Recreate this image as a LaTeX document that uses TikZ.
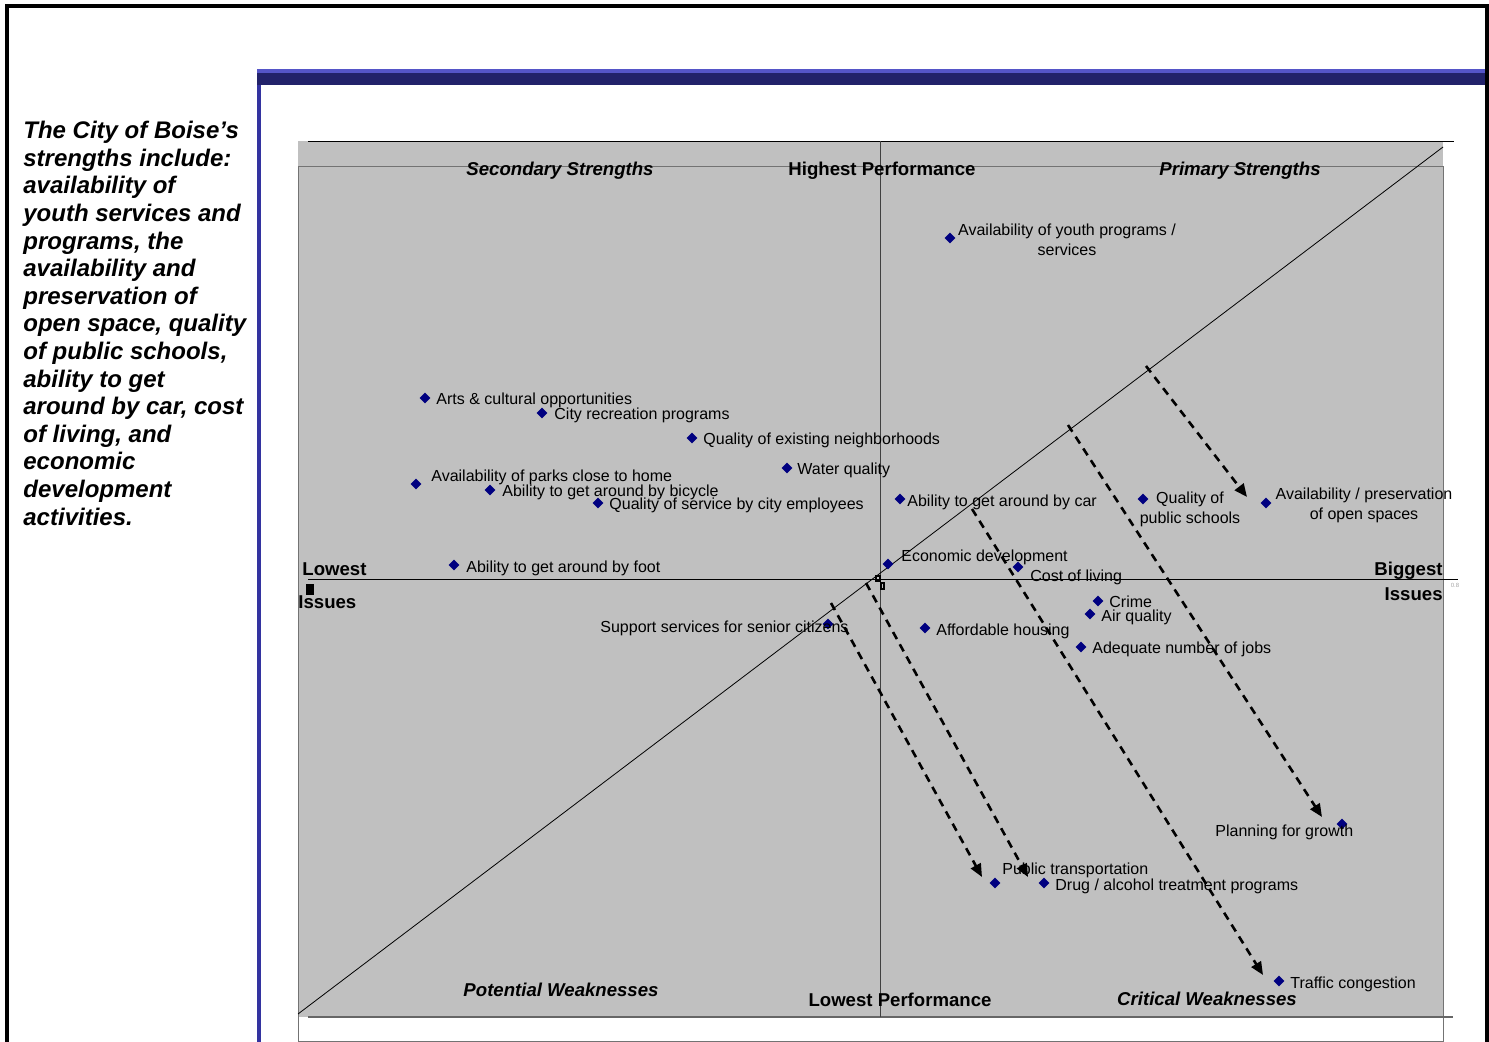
\documentclass[tikz,border=0pt]{standalone}
\usepackage{fontspec}
\setmainfont{Liberation Sans}
\usetikzlibrary{arrows.meta, positioning, shapes.geometric}

\definecolor{ptblue}{RGB}{0,0,128}
\definecolor{plotgrey}{RGB}{192,192,192}
\definecolor{framenavy}{RGB}{34,34,106}
\definecolor{framelight}{RGB}{85,85,200}
\definecolor{frameside}{RGB}{51,51,160}

\begin{document}
\begin{tikzpicture}[
        x=0.5pt, y=-0.5pt,
        pt/.style={diamond, fill=ptblue, inner sep=0pt, minimum size=5.6pt},
        lbl/.style={font=\fontsize{8}{10}\selectfont, inner sep=0pt, anchor=west, text height=6.4pt, text depth=0pt},
        mlbl/.style={font=\fontsize{8}{10}\selectfont, inner sep=0pt, align=center},
        head/.style={font=\fontsize{9.3}{11}\selectfont\bfseries, inner sep=0pt, text height=8pt, text depth=0pt},
        quad/.style={head, font=\fontsize{9.3}{11}\selectfont\bfseries\itshape},
        move/.style={-{Triangle[length=6.5pt, width=5.5pt]}, dash pattern=on 4pt off 3pt, line width=1.3pt}
    ]
        \useasboundingbox (0,0) rectangle (1489,1042);

        % page frame
        \draw[line width=2pt] (7,1042) -- (7,6) -- (1487,6) -- (1487,1042);
        \fill[framelight] (257,69) rectangle (1485,73);
        \fill[framenavy] (257,73) rectangle (1485,85);
        \fill[frameside] (257,85) rectangle (261,1042);

        % side text
        \node[anchor=north west, inner sep=0pt, align=left,
              font=\fontsize{12}{13.8}\selectfont\bfseries\itshape] (summary) at (23,121)
            {The City of Boise’s\\strengths include:\\availability of\\youth services and\\programs, the\\availability and\\preservation of\\open space, quality\\of public schools,\\ability to get\\around by car, cost\\of living, and\\economic\\development\\activities.};

        % plot area
        \fill[plotgrey] (298,141) rectangle (1443,1017);
        \draw[black!55] (298,1041) -- (298,166) -- (1443,166) -- (1443,1041) -- cycle;
        \draw[black!60, line width=0.8pt] (308,1017) -- (1453,1017);
        \draw (308,141) -- (1454,141);
        \draw (308,579) -- (1458,579);
        \draw[black!75] (880,141) -- (880,1017);
        \draw (298,1014) -- (1443,147);
        \fill (306,584) rectangle (314,595);
        \draw[line width=0.6pt] (876,576) rectangle (880,581);
        \draw[line width=0.6pt] (881,583) rectangle (884,589);
        \node[font=\fontsize{3}{3}\selectfont, text=black!35, inner sep=0pt] (maxtick) at (1455,585) {0.8};

        % quadrant and axis titles
        \node[quad] (secstr) at (560,168) {Secondary Strengths};
        \node[head] (highperf) at (882,168) {Highest Performance};
        \node[quad] (primstr) at (1240,168) {Primary Strengths};
        \node[quad] (potweak) at (561,988) {Potential Weaknesses};
        \node[head] (lowperf) at (900,998) {Lowest Performance};
        \node[quad] (critweak) at (1207,997) {Critical Weaknesses};
        \node[head, anchor=west] (lowest) at (302,568) {Lowest};
        \node[head, anchor=west] (lowiss) at (298,601) {Issues};
        \node[head, anchor=east] (biggest) at (1443,568) {Biggest};
        \node[head, anchor=east] (bigiss) at (1443,593) {Issues};

        % data points
        \node[pt] (youth) at (950,238) {};
        \node[mlbl] (youthT) at (1067,240) {Availability of youth programs /\\services};
        \node[pt] (arts) at (425,398) {};
        \node[lbl] (artsT) at (436,398) {Arts \& cultural opportunities};
        \node[pt] (cityrec) at (542,413) {};
        \node[lbl] (cityrecT) at (554,413) {City recreation programs};
        \node[pt] (neigh) at (692,438) {};
        \node[lbl] (neighT) at (703,438) {Quality of existing neighborhoods};
        \node[pt] (water) at (787,468) {};
        \node[lbl] (waterT) at (797,468) {Water quality};
        \node[pt] (parks) at (416,484) {};
        \node[lbl] (parksT) at (431,475) {Availability of parks close to home};
        \node[pt] (bicycle) at (490,490) {};
        \node[lbl] (bicycleT) at (502,490) {Ability to get around by bicycle};
        \node[pt] (service) at (598,503) {};
        \node[lbl] (serviceT) at (609,503) {Quality of service by city employees};
        \node[pt] (car) at (900,499) {};
        \node[lbl] (carT) at (907,500) {Ability to get around by car};
        \node[pt] (schools) at (1143,499) {};
        \node[mlbl] (schoolsT) at (1190,509) {Quality of\\public schools};
        \node[pt] (openspace) at (1266,503) {};
        \node[mlbl] (openspaceT) at (1364,505) {Availability / preservation\\of open spaces};
        \node[pt] (foot) at (454,565) {};
        \node[lbl] (footT) at (466,566) {Ability to get around by foot};
        \node[pt] (econ) at (888,564) {};
        \node[lbl] (econT) at (901,555) {Economic development};
        \node[pt] (cost) at (1018,567) {};
        \node[lbl] (costT) at (1030,575) {Cost of living};
        \node[pt] (crime) at (1098,601) {};
        \node[lbl] (crimeT) at (1109,601) {Crime};
        \node[pt] (air) at (1090,614) {};
        \node[lbl] (airT) at (1101,615) {Air quality};
        \node[pt] (senior) at (828,624) {};
        \node[lbl] (seniorT) at (600,626) {Support services for senior citizens};
        \node[pt] (housing) at (925,628) {};
        \node[lbl] (housingT) at (936,629) {Affordable housing};
        \node[pt] (jobs) at (1081,647) {};
        \node[lbl] (jobsT) at (1092,647) {Adequate number of jobs};
        \node[pt] (growth) at (1342,824) {};
        \node[lbl] (growthT) at (1215,830) {Planning for growth};
        \node[pt] (transport) at (995,883) {};
        \node[lbl] (transportT) at (1002,868) {Public transportation};
        \node[pt] (drug) at (1044,883) {};
        \node[lbl] (drugT) at (1055,884) {Drug / alcohol treatment programs};
        \node[pt] (traffic) at (1279,981) {};
        \node[lbl] (trafficT) at (1290,982) {Traffic congestion};

        % shifts away from the diagonal
        \coordinate (shiftA) at (1146,366);
        \coordinate (shiftB) at (1068,425);
        \coordinate (shiftC) at (972,509);
        \coordinate (shiftD) at (866,583);
        \coordinate (shiftE) at (831,603);
        \coordinate (tipA) at (1247,497);
        \coordinate (tipB) at (1322,817);
        \coordinate (tipC) at (1263,975);
        \coordinate (tipD) at (1028,877);
        \coordinate (tipE) at (982,877);

        \draw[move] (shiftA) -- (tipA);
        \draw[move] (shiftB) -- (tipB);
        \draw[move] (shiftC) -- (tipC);
        \draw[move] (shiftD) -- (tipD);
        \draw[move] (shiftE) -- (tipE);
    \end{tikzpicture}
\end{document}
